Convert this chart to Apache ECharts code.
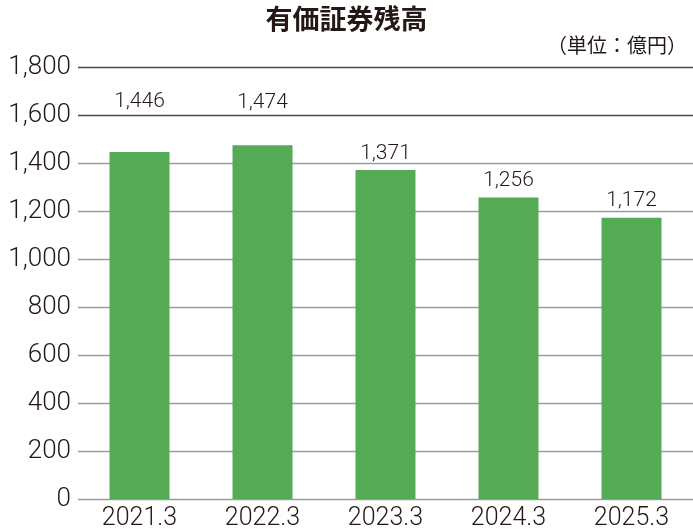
<!DOCTYPE html>
<html>
<head>
<meta charset="utf-8">
<script src="https://cdn.jsdelivr.net/npm/echarts@6/dist/echarts.min.js"></script>
<style>
  html, body { margin: 0; padding: 0; background: #fff; }
  #main { width: 693px; height: 531px; }
</style>
</head>
<body>
<div id="main"></div>
<script>
  var myChart = echarts.init(document.getElementById('main'));

  // データ（単位：億円）
  var years = ['2021.3', '2022.3', '2023.3', '2024.3', '2025.3'];
  var balance = [1446, 1474, 1371, 1256, 1172];
  var yTicks = [0, 200, 400, 600, 800, 1000, 1200, 1400, 1600, 1800];

  // ラベルの持ち上げ量（px）
  var labelLift = [34, 26, 0, 0, 0];

  var numFont = 'Roboto';
  var textColor = '#231815';

  var barData = [];
  for (var i = 0; i < balance.length; i++) {
    barData.push({
      value: balance[i],
      label: { offset: [0, -labelLift[i]] }
    });
  }

  var option = {
    animation: false,
    title: [
      {
        text: '有価証券残高',
        left: 'center',
        top: 0,
        textStyle: {
          fontFamily: 'Noto Sans CJK JP',
          fontSize: 27,
          fontWeight: 'bold',
          color: textColor
        }
      },
      {
        text: '（単位：億円）',
        right: 1,
        top: 30,
        textStyle: {
          fontFamily: 'Noto Sans CJK JP',
          fontSize: 20,
          fontWeight: 'normal',
          color: textColor
        }
      }
    ],
    grid: { left: 78, right: 0, top: 67, bottom: 31 },
    xAxis: {
      type: 'category',
      data: years,
      axisLine: { show: false },
      axisTick: { show: false },
      axisLabel: {
        margin: 7,
        fontFamily: numFont,
        fontWeight: 300,
        fontSize: 25,
        color: textColor
      }
    },
    yAxis: {
      type: 'value',
      min: yTicks[0],
      max: yTicks[yTicks.length - 1],
      interval: 200,
      axisLine: { show: false },
      axisTick: { show: false },
      axisLabel: {
        margin: 7,
        fontFamily: numFont,
        fontWeight: 300,
        fontSize: 26,
        color: textColor,
        formatter: function (v) { return v.toLocaleString('en-US'); }
      },
      splitLine: {
        lineStyle: {
          width: 1.3,
          color: ['#9a9a9a', '#9a9a9a', '#9a9a9a', '#9a9a9a', '#9a9a9a',
                  '#9a9a9a', '#9a9a9a', '#9a9a9a', '#4a4a4a', '#4a4a4a']
        }
      }
    },
    series: [
      {
        name: '有価証券残高',
        type: 'bar',
        barWidth: 60,
        data: barData,
        itemStyle: { color: '#55ab55' },
        label: {
          show: true,
          position: 'top',
          distance: 6,
          fontFamily: numFont,
          fontWeight: 300,
          fontSize: 21,
          color: textColor,
          formatter: function (p) { return p.value.toLocaleString('en-US'); }
        }
      }
    ]
  };
  myChart.setOption(option);
</script>
</body>
</html>
